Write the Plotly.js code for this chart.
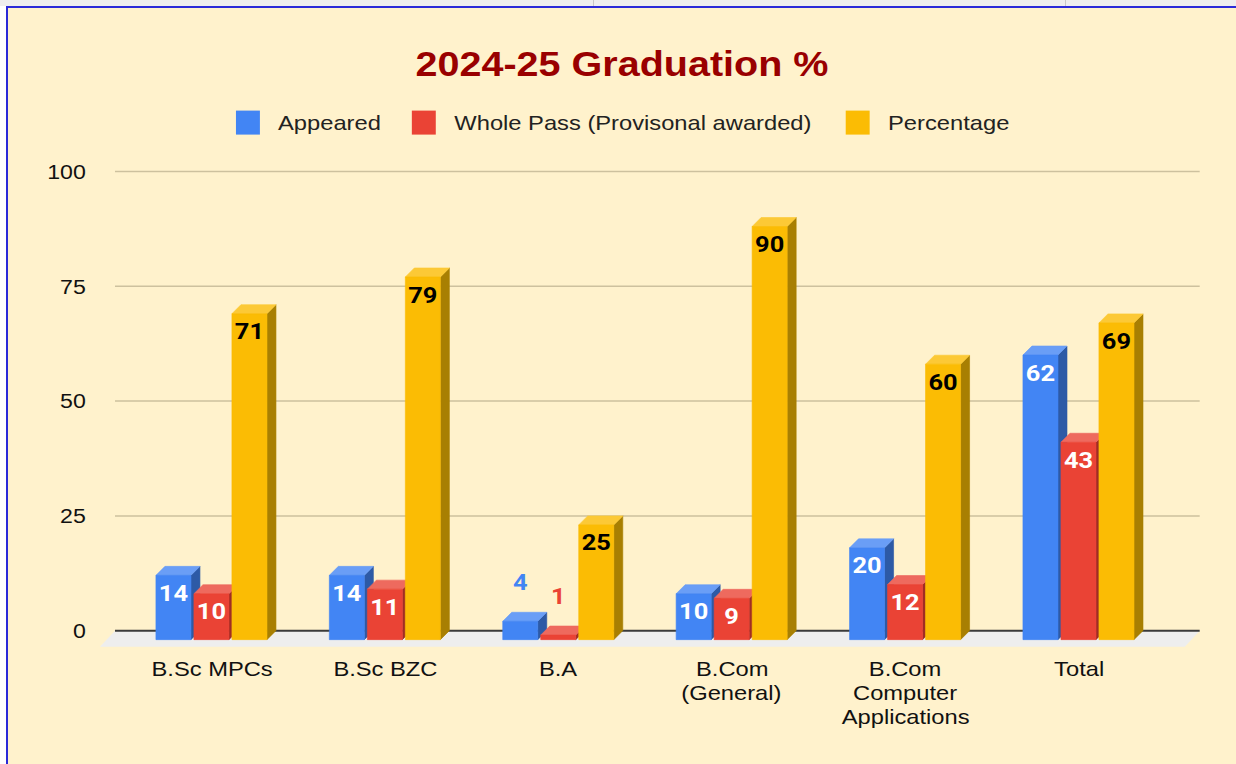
<!DOCTYPE html>
<html>
<head>
<meta charset="utf-8">
<script src="https://cdn.plot.ly/plotly-3.0.1.min.js"></script>
<style>
  html, body { margin: 0; padding: 0; background: #ffffff; width: 1236px; height: 764px; overflow: hidden; }
  #topstrip { position: absolute; left: 0; top: 0; width: 1236px; height: 6px; background: #eeeeee; }
  #sep1 { position: absolute; left: 593px; top: 0; width: 1px; height: 6px; background: #c8c8c8; }
  #sep2 { position: absolute; left: 1065px; top: 0; width: 1px; height: 6px; background: #c8c8c8; }
  #hline { position: absolute; left: 7px; top: 6px; width: 1229px; height: 2px; background: #2a2ad8; }
  #vline { position: absolute; left: 6px; top: 6px; width: 2px; height: 758px; background: #2a2ad8; }
  #wrap { position: absolute; left: 8px; top: 8px; width: 1228px; height: 756px; overflow: hidden; background: #fff2cc; }
  #chart { width: 1087px; height: 756px; transform: scaleX(1.1297); transform-origin: 0 0; }
</style>
</head>
<body>
<div id="topstrip"></div><div id="sep1"></div><div id="sep2"></div>
<div id="hline"></div><div id="vline"></div>
<div id="wrap"><div id="chart"></div></div>
<script>
// ---------------- data ----------------
const categories = ['B.Sc MPCs', 'B.Sc BZC', 'B.A', 'B.Com<br>(General)', 'B.Com<br>Computer<br>Applications', 'Total'];
const seriesNames = ['Appeared', 'Whole Pass (Provisonal awarded)', 'Percentage'];
const appeared = [14, 14, 4, 10, 20, 62];
const wholePass = [10, 11, 1, 9, 12, 43];
const percentage = [71, 79, 25, 90, 60, 69];
const yTicks = [0, 25, 50, 75, 100];

// ---------------- styling / geometry ----------------
const W = 1087, H = 756;
const M = { l: 80, r: 31.9, t: 159.4, b: 114.6 };
const XR = [-0.704, 5.648], YR = [-4, 101];
const plotW = W - M.l - M.r, plotH = H - M.t - M.b;
const pxX = plotW / (XR[1] - XR[0]);
const pxY = plotH / (YR[1] - YR[0]);

const depthXpx = 7.97, depthYpx = 9;        // bar depth
const floorXpx = 13.3, floorYpx = 16;       // floor depth
const barWpx = 31, barPitchPx = 33.64;
const gridStartPx = 94.7;                   // gridlines start (local px)

const dxU = depthXpx / pxX, dyU = depthYpx / pxY;
const fdxU = floorXpx / pxX, fdyU = floorYpx / pxY;
const bwU = barWpx / pxX, pitchU = barPitchPx / pxX;
const gridStartU = XR[0] + (gridStartPx - M.l) / pxX;

const frontCol = ['#4285F4', '#EA4335', '#FBBC04'];
const topCol = ['#6a9ef6', '#ee6a5e', '#fcc936'];
const sideCol = ['#2d5aa6', '#a02d24', '#a87f02'];
const insideLabelCol = ['#ffffff', '#ffffff', '#000000'];
const seriesVals = [appeared, wholePass, percentage];

const traces = [];

// gridlines
(function () {
  const gx = [], gy = [];
  yTicks.filter(v => v !== 0).forEach(v => { gx.push(gridStartU, XR[1], null); gy.push(v, v, null); });
  traces.push({ type: 'scatter', mode: 'lines', x: gx, y: gy, line: { color: '#cdc19e', width: 1.5 }, hoverinfo: 'skip' });
})();

// floor
traces.push({
  type: 'scatter', mode: 'lines', fill: 'toself', fillcolor: '#eeeeee',
  x: [gridStartU, XR[1], XR[1] - fdxU, gridStartU - fdxU, gridStartU],
  y: [0, 0, -fdyU, -fdyU, 0],
  line: { width: 0, color: '#eeeeee' }, hoverinfo: 'skip'
});

// zero line
traces.push({ type: 'scatter', mode: 'lines', x: [gridStartU, XR[1]], y: [0, 0], line: { color: '#3a3a3a', width: 2 }, hoverinfo: 'skip' });

// 3D bars
seriesVals.forEach((vals, s) => {
  const fx = [], fy = [], sx = [], sy = [], tx = [], ty = [];
  vals.forEach((v, i) => {
    const c = i + (s - 1) * pitchU - dxU;
    const xl = c - bwU / 2, xr = c + bwU / 2;
    fx.push(xl, xr, xr, xl, xl, null); fy.push(-dyU, -dyU, v - dyU, v - dyU, -dyU, null);
    sx.push(xr, xr + dxU, xr + dxU, xr, xr, null); sy.push(-dyU, 0, v, v - dyU, -dyU, null);
    tx.push(xl, xr, xr + dxU, xl + dxU, xl, null); ty.push(v - dyU, v - dyU, v, v, v - dyU, null);
  });
  [[sx, sy, sideCol[s]], [tx, ty, topCol[s]], [fx, fy, frontCol[s]]].forEach(([x, y, col]) => {
    traces.push({ type: 'scatter', mode: 'lines', fill: 'toself', fillcolor: col, x: x, y: y,
      line: { width: 0.6, color: col }, hoverinfo: 'skip' });
  });
});

// data labels
seriesVals.forEach((vals, s) => {
  const lx = [], ly = [], lc = [];
  vals.forEach((v, i) => {
    const c = i + (s - 1) * pitchU - dxU;
    const outside = v * pxY < 35;
    lx.push(c);
    ly.push(outside ? v - dyU + 37 / pxY : v - dyU - 20 / pxY);
    lc.push(outside ? frontCol[s] : insideLabelCol[s]);
  });
  traces.push({ type: 'scatter', mode: 'text', x: lx, y: ly, text: vals.map(String),
    textposition: 'middle center', cliponaxis: false,
    textfont: { family: 'Roboto, Arial, sans-serif', size: 22.5, weight: 700, color: lc }, hoverinfo: 'skip' });
});

// custom legend + category labels
const pX = p => (p - M.l) / plotW;
const pY = p => 1 - (p - M.t) / plotH;
const legendSq = [201.8, 357.5, 741.6];
const legendTx = [237.2, 393.0, 777.0];
const shapes = [], annotations = [];
const txtFont = { family: 'Liberation Sans, Arial, sans-serif', size: 21, color: '#222222' };
seriesNames.forEach((n, s) => {
  shapes.push({ type: 'rect', xref: 'paper', yref: 'paper', x0: pX(legendSq[s]), x1: pX(legendSq[s] + 21.2),
    y0: pY(103), y1: pY(127), fillcolor: frontCol[s], line: { width: 0 } });
  annotations.push({ xref: 'paper', yref: 'paper', x: pX(legendTx[s]), y: pY(115), xanchor: 'left', yanchor: 'middle',
    text: n, showarrow: false, font: txtFont });
});
const catLabelTop = 661, catLinePitch = 24;
categories.forEach((c, i) => {
  c.split('<br>').forEach((line, k) => {
    annotations.push({ xref: 'x', yref: 'paper', x: i - dxU, y: pY(catLabelTop + k * catLinePitch), xanchor: 'center', yanchor: 'middle',
      text: line, showarrow: false, font: { family: 'Liberation Sans, Arial, sans-serif', size: 21, color: '#111111' } });
  });
});

const layout = {
  width: W, height: H,
  margin: M,
  paper_bgcolor: '#fff2cc', plot_bgcolor: '#fff2cc',
  showlegend: false, hovermode: false,
  title: { text: '2024-25 Graduation %', x: 0.5, xref: 'container', xanchor: 'center', y: 1 - 56 / H, yref: 'container', yanchor: 'middle',
    font: { family: 'Liberation Sans, Arial, sans-serif', size: 35, weight: 700, color: '#990000' } },
  xaxis: { range: XR, tickvals: categories.map((c, i) => i - dxU), ticktext: categories, showticklabels: false,
    showgrid: false, zeroline: false, showline: false, ticks: '', fixedrange: true },
  yaxis: { range: YR, tickvals: yTicks, ticktext: yTicks.map(String),
    showgrid: false, zeroline: false, showline: false, ticks: 'outside', ticklen: 6, tickcolor: 'rgba(0,0,0,0)',
    tickfont: { family: 'Liberation Sans, Arial, sans-serif', size: 20.5, color: '#111111' }, fixedrange: true },
  shapes: shapes, annotations: annotations
};

Plotly.newPlot('chart', traces, layout, { staticPlot: true, displayModeBar: false });
</script>
</body>
</html>
